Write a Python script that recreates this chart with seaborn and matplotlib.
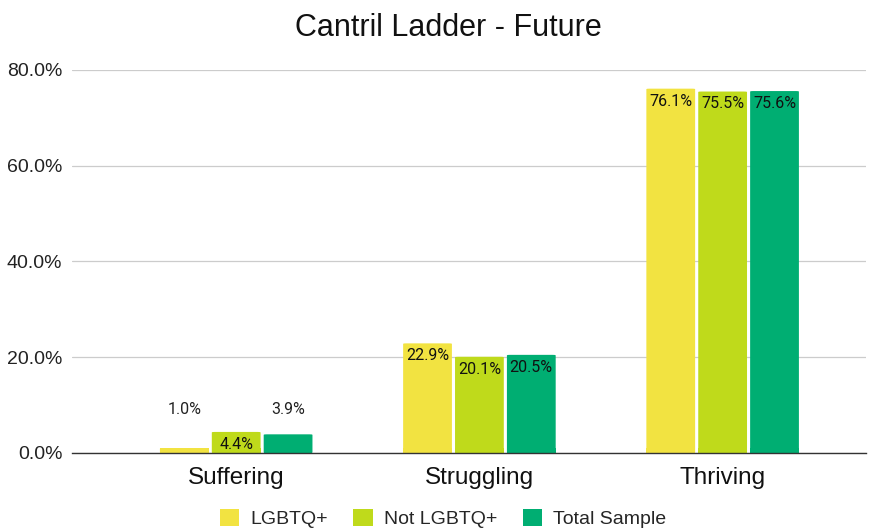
import matplotlib
matplotlib.use("Agg")
import matplotlib.pyplot as plt
import seaborn as sns
import pandas as pd
from matplotlib.patches import FancyBboxPatch, Patch

categories = ["Suffering", "Struggling", "Thriving"]
groups = ["LGBTQ+", "Not LGBTQ+", "Total Sample"]
lgbtq = [1.0, 22.9, 76.1]
not_lgbtq = [4.4, 20.1, 75.5]
total = [3.9, 20.5, 75.6]
colors = ["#F2E341", "#BFDA1B", "#00AE72"]

df = pd.DataFrame({
    "Category": categories * 3,
    "Group": [g for g in groups for _ in categories],
    "Value": lgbtq + not_lgbtq + total,
})

sns.set_theme(style="white")
plt.rcParams["font.family"] = ["Liberation Sans", "DejaVu Sans"]

fig = plt.figure(figsize=(8.74, 5.31), dpi=100)
ax = fig.add_axes([0.0824, 0.1469, 0.9086, 0.7213])

sns.barplot(data=df, x="Category", y="Value", hue="Group", palette=colors,
            width=0.64, gap=0.06, ax=ax, legend=False, saturation=1)

# round the top corners of the bars
for p in list(ax.patches):
    x, y = p.get_x(), p.get_y()
    w, h = p.get_width(), p.get_height()
    fc = p.get_facecolor()
    p.set_visible(False)
    fb = FancyBboxPatch((x, y), w, h, boxstyle="round,pad=0,rounding_size=0.012",
                        mutation_aspect=8.0, facecolor=fc, edgecolor="none")
    ax.add_patch(fb)
    # square off the bottom corners
    ax.add_patch(plt.Rectangle((x, y), w, min(h, 1.0), facecolor=fc, edgecolor="none"))

ax.set_ylim(0, 80)
ax.set_xlim(-0.675, 2.59)
ax.set_yticks([0, 20, 40, 60, 80])
ax.set_yticklabels([f"{v:.1f}%" for v in [0, 20, 40, 60, 80]], fontsize=14, color="#222222")
ax.tick_params(axis="x", labelsize=17.5, colors="#111111", length=0, pad=10)
ax.tick_params(axis="y", length=0, pad=7)
ax.yaxis.grid(True, color="#CCCCCC", linewidth=0.9)
ax.set_axisbelow(True)
for s in ["top", "right", "left"]:
    ax.spines[s].set_visible(False)
ax.spines["bottom"].set_color("#333333")
ax.spines["bottom"].set_linewidth(1.0)
ax.set_xlabel("")
ax.set_ylabel("")

# value labels
slot = 0.64 / 3
series = [lgbtq, not_lgbtq, total]
for gi, vals in enumerate(series):
    for ci, v in enumerate(vals):
        xc = ci - 0.32 + slot * (gi + 0.5)
        if v < 4.2:
            ax.text(xc, 9.0, f"{v:.1f}%", ha="center", va="center",
                    fontsize=11.5, color="#222222", family=["Roboto", "DejaVu Sans"])
        else:
            ax.text(xc, v - 2.6, f"{v:.1f}%", ha="center", va="center",
                    fontsize=11.5, color="#111111", family=["Roboto", "DejaVu Sans"])

fig.text(0.513, 0.948, "Cantril Ladder - Future", ha="center", va="center",
         fontsize=22, color="#111111")

handles = [Patch(facecolor=c, edgecolor="none") for c in colors]
fig.legend(handles, groups, loc="center", bbox_to_anchor=(0.507, 0.024), ncol=3,
           frameon=False, fontsize=14, handlelength=1.0, handleheight=1.0,
           columnspacing=1.3, handletextpad=0.57)

fig.savefig("out.png", dpi=100)
